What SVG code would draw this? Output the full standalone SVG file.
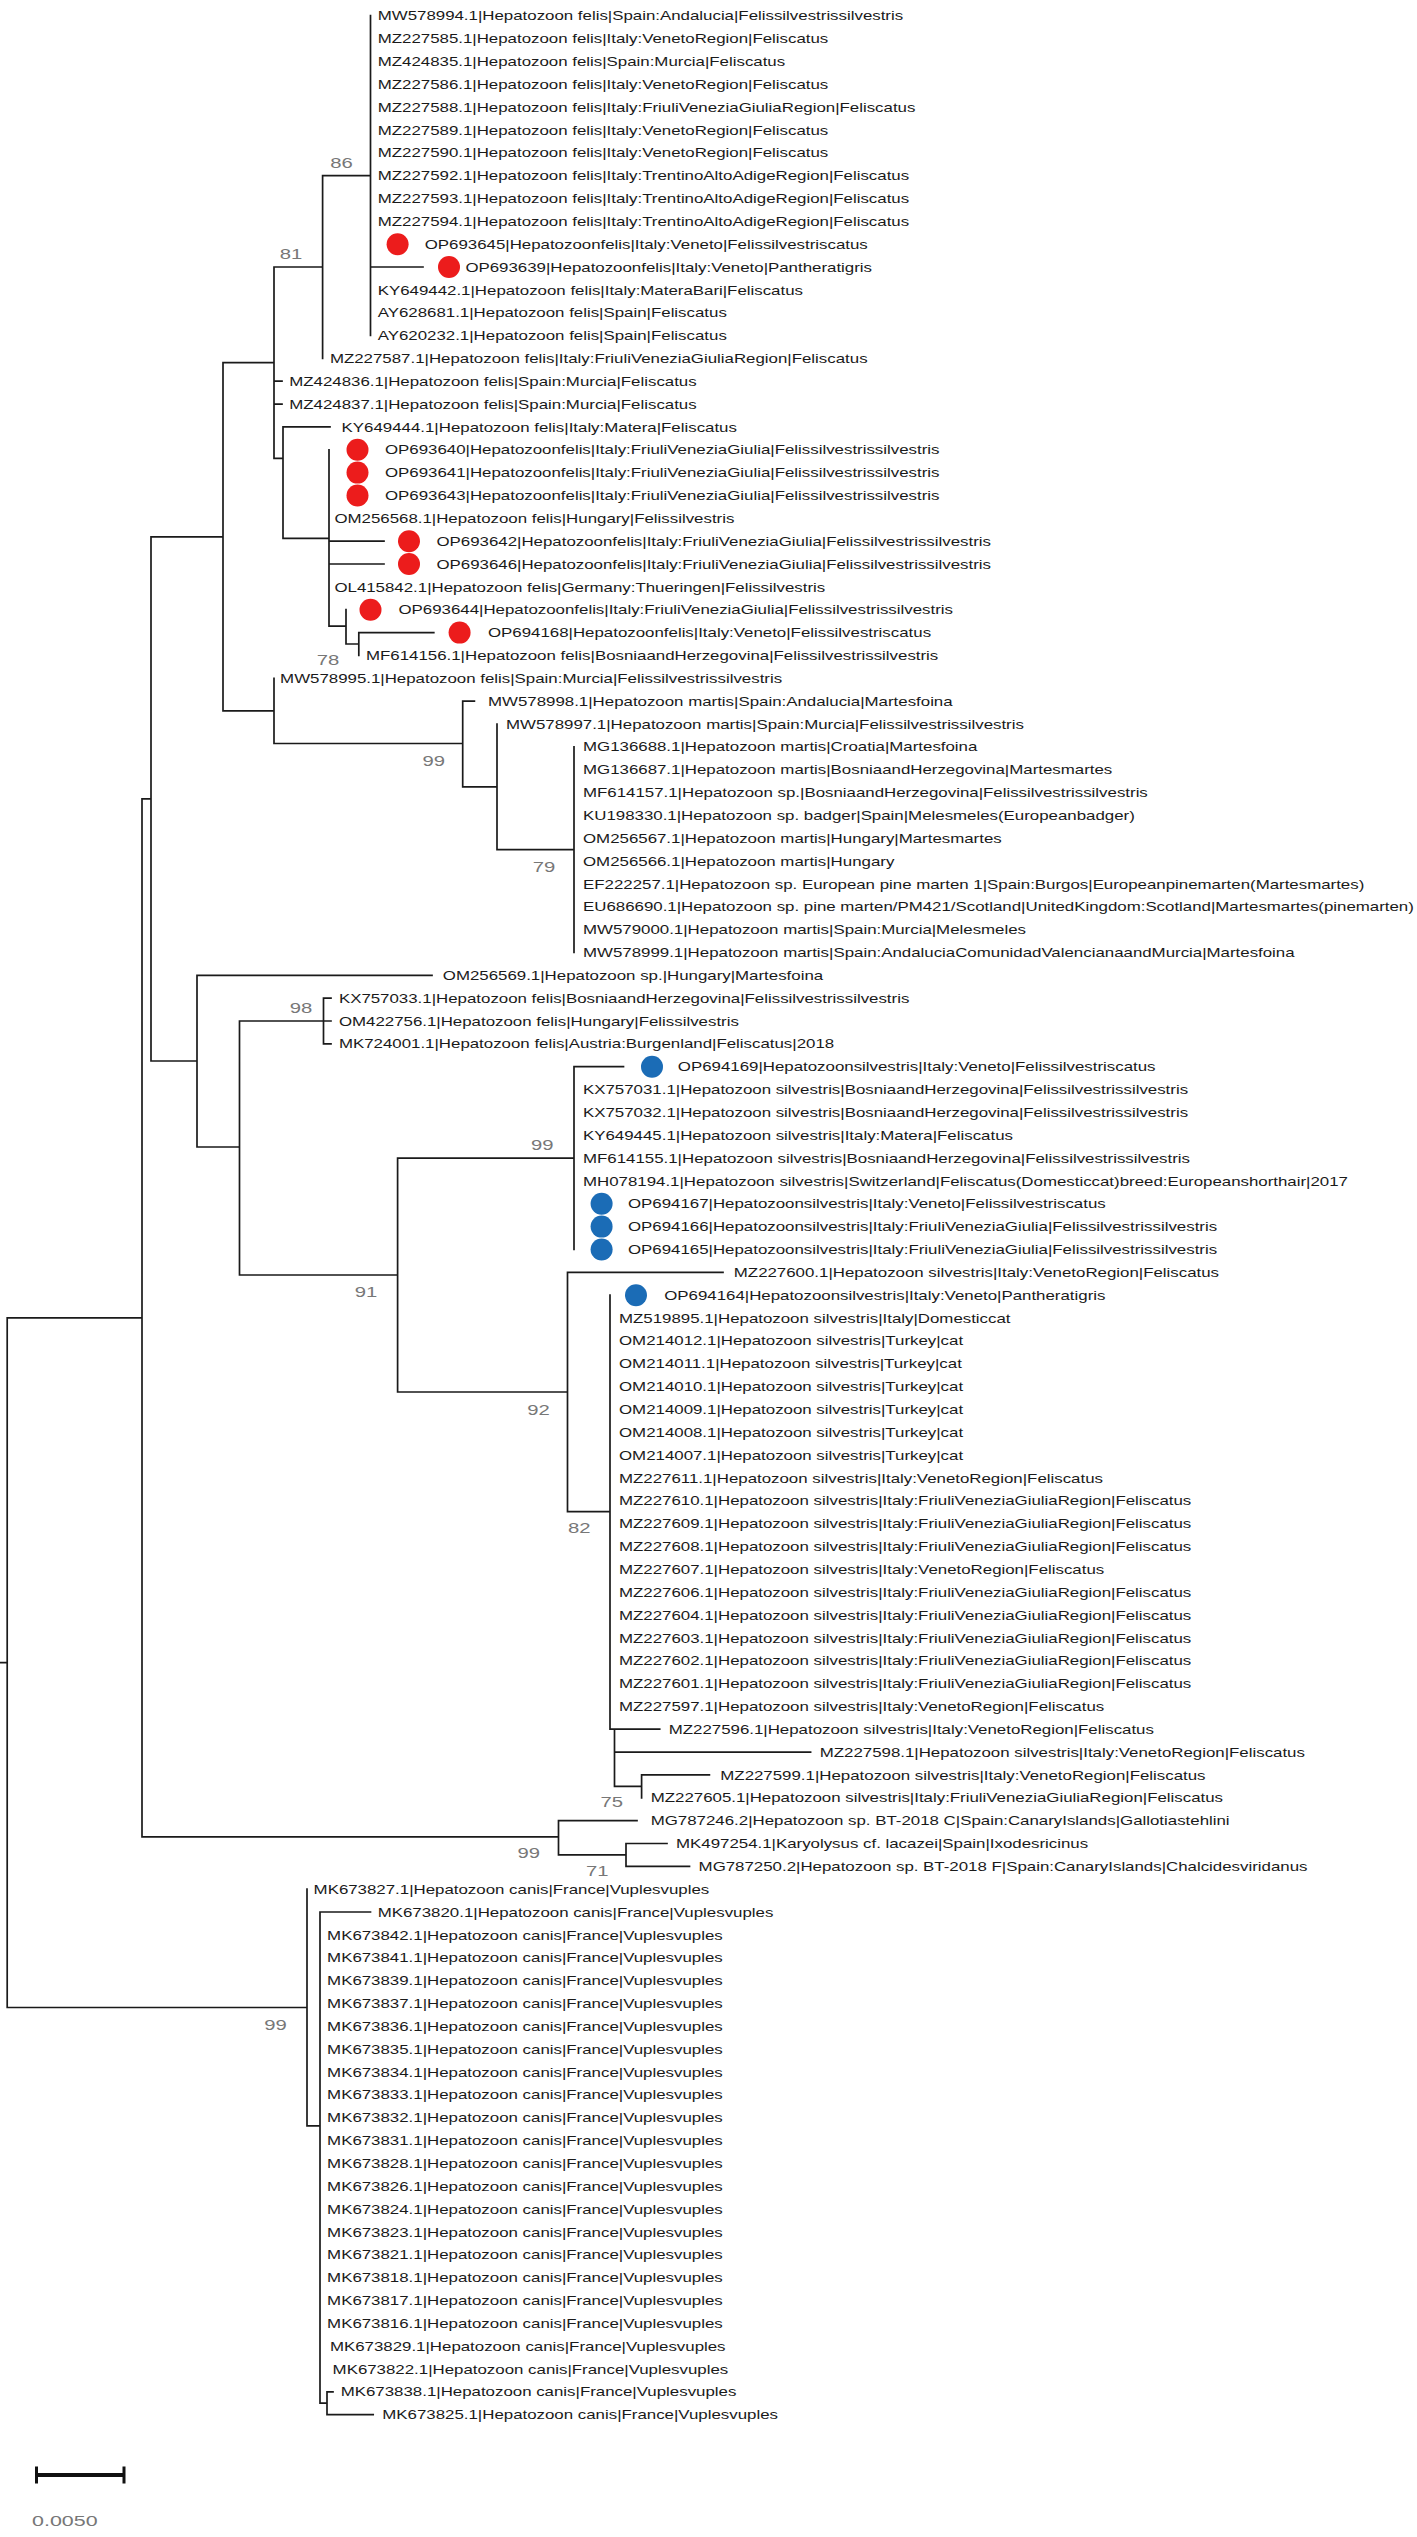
<svg xmlns="http://www.w3.org/2000/svg" width="1417" height="2537" viewBox="0 0 1417 2537">
<style>
.l{font-family:"Liberation Sans",Arial,Helvetica,sans-serif;font-size:12.5px;fill:#1a1a1a}
.b{font-family:"Liberation Sans",Arial,Helvetica,sans-serif;font-size:14px;fill:#777;text-anchor:middle}
.s{font-family:"Liberation Sans",Arial,Helvetica,sans-serif;font-size:15px;fill:#777}
.e{fill:none;stroke:#1a1a1a;stroke-width:1.7;stroke-linecap:square}
.r{fill:#ec1c1c}
.u{fill:#1b6cb6}
</style>
<rect width="1417" height="2537" fill="#fff"/>
<g id="connectors">
<path class="e" d="M0 1662.7H7.2M7.2 1317.9V2007.5M7.2 1317.9H142M142 798.9V1836.9M142 798.9H151M151 536.8V1061M151 536.8H223M223 362.7V710.9M223 362.7H274M274 267V458.3M274 267H322.6M322.6 175.6V358.4M322.6 175.6H370.5M370.5 15.7V335.5M370.5 267H423M274 381.2H282M274 404.1H282M274 458.3H283M283 426.9V538.3M283 426.9H330M283 538.3H329M329 449.8V626.2M329 541.2H384M329 564H384M329 626.2H346M346 609.7V644M346 644H358.8M358.8 632.6V655.4M358.8 632.6H433.8M223 710.9H274M274 678.3V743.5M274 743.5H462.7M462.7 701.1V786.8M462.7 701.1H474.4M462.7 786.8H497M497 724V849.6M497 849.6H574M574 746.8V952.4M151 1061H197M197 975.3V1147M197 975.3H432M197 1147H239.5M239.5 1021V1275M239.5 1021H323.5M323.5 998.1V1043.8M323.5 998.1H331M323.5 1021H331M323.5 1043.8H331M239.5 1275H397.6M397.6 1158.1V1392M397.6 1158.1H574M574 1066.7V1249.5M574 1066.7H623.5M397.6 1392H567.5M567.5 1272.3V1511.7M567.5 1272.3H723M567.5 1511.7H610M610 1295.2V1729.2M610 1729.2H614.5M614.5 1729.2V1786.4M614.5 1729.2H659.7M614.5 1752.1H810.6M614.5 1786.4H641.6M641.6 1774.9V1797.8M641.6 1774.9H709.4M142 1836.9H558.5M558.5 1820.6V1854.9M558.5 1820.6H637M558.5 1854.9H626M626 1843.5V1866.3M626 1843.5H667M626 1866.3H689.5M7.2 2007.5H307M307 1889.2V2125.8M307 2125.8H320M320 1912V2403.2M320 1912H370.5M320 2403.2H327M327 2391.8V2414.7M327 2391.8H333M327 2414.7H373.2"/>
</g>
<g id="bootstrap">
<text class="b" transform="translate(341.6 168.3)scale(1.45 1)">86</text>
<text class="b" transform="translate(291 259.3)scale(1.45 1)">81</text>
<text class="b" transform="translate(328 665)scale(1.45 1)">78</text>
<text class="b" transform="translate(433.8 765.7)scale(1.45 1)">99</text>
<text class="b" transform="translate(544 871.7)scale(1.45 1)">79</text>
<text class="b" transform="translate(301 1013.3)scale(1.45 1)">98</text>
<text class="b" transform="translate(542.2 1150)scale(1.45 1)">99</text>
<text class="b" transform="translate(366 1296.7)scale(1.45 1)">91</text>
<text class="b" transform="translate(538.6 1415)scale(1.45 1)">92</text>
<text class="b" transform="translate(579.3 1533.3)scale(1.45 1)">82</text>
<text class="b" transform="translate(611.8 1806.7)scale(1.45 1)">75</text>
<text class="b" transform="translate(528.7 1858.3)scale(1.45 1)">99</text>
<text class="b" transform="translate(597.3 1875.7)scale(1.45 1)">71</text>
<text class="b" transform="translate(275.6 2030)scale(1.45 1)">99</text>
</g>
<g id="leaves">
<g id="n001"><text class="l" transform="translate(377.7 20.3)scale(1.35 1)">MW578994.1|Hepatozoon felis|Spain:Andalucia|Felissilvestrissilvestris</text></g>
<g id="n002"><text class="l" transform="translate(377.7 43.1)scale(1.35 1)">MZ227585.1|Hepatozoon felis|Italy:VenetoRegion|Feliscatus</text></g>
<g id="n003"><text class="l" transform="translate(377.7 66)scale(1.35 1)">MZ424835.1|Hepatozoon felis|Spain:Murcia|Feliscatus</text></g>
<g id="n004"><text class="l" transform="translate(377.7 88.8)scale(1.35 1)">MZ227586.1|Hepatozoon felis|Italy:VenetoRegion|Feliscatus</text></g>
<g id="n005"><text class="l" transform="translate(377.7 111.7)scale(1.35 1)">MZ227588.1|Hepatozoon felis|Italy:FriuliVeneziaGiuliaRegion|Feliscatus</text></g>
<g id="n006"><text class="l" transform="translate(377.7 134.5)scale(1.35 1)">MZ227589.1|Hepatozoon felis|Italy:VenetoRegion|Feliscatus</text></g>
<g id="n007"><text class="l" transform="translate(377.7 157.4)scale(1.35 1)">MZ227590.1|Hepatozoon felis|Italy:VenetoRegion|Feliscatus</text></g>
<g id="n008"><text class="l" transform="translate(377.7 180.2)scale(1.35 1)">MZ227592.1|Hepatozoon felis|Italy:TrentinoAltoAdigeRegion|Feliscatus</text></g>
<g id="n009"><text class="l" transform="translate(377.7 203.1)scale(1.35 1)">MZ227593.1|Hepatozoon felis|Italy:TrentinoAltoAdigeRegion|Feliscatus</text></g>
<g id="n010"><text class="l" transform="translate(377.7 225.9)scale(1.35 1)">MZ227594.1|Hepatozoon felis|Italy:TrentinoAltoAdigeRegion|Feliscatus</text></g>
<g id="n011"><circle class="r" cx="397.6" cy="244.2" r="11"/><text class="l" transform="translate(424.7 248.8)scale(1.35 1)">OP693645|Hepatozoonfelis|Italy:Veneto|Felissilvestriscatus</text></g>
<g id="n012"><circle class="r" cx="449" cy="267" r="11"/><text class="l" transform="translate(465.4 271.6)scale(1.35 1)">OP693639|Hepatozoonfelis|Italy:Veneto|Pantheratigris</text></g>
<g id="n013"><text class="l" transform="translate(377.7 294.5)scale(1.35 1)">KY649442.1|Hepatozoon felis|Italy:MateraBari|Feliscatus</text></g>
<g id="n014"><text class="l" transform="translate(377.7 317.3)scale(1.35 1)">AY628681.1|Hepatozoon felis|Spain|Feliscatus</text></g>
<g id="n015"><text class="l" transform="translate(377.7 340.1)scale(1.35 1)">AY620232.1|Hepatozoon felis|Spain|Feliscatus</text></g>
<g id="n016"><text class="l" transform="translate(329.9 363)scale(1.35 1)">MZ227587.1|Hepatozoon felis|Italy:FriuliVeneziaGiuliaRegion|Feliscatus</text></g>
<g id="n017"><text class="l" transform="translate(289.2 385.8)scale(1.35 1)">MZ424836.1|Hepatozoon felis|Spain:Murcia|Feliscatus</text></g>
<g id="n018"><text class="l" transform="translate(289.2 408.7)scale(1.35 1)">MZ424837.1|Hepatozoon felis|Spain:Murcia|Feliscatus</text></g>
<g id="n019"><text class="l" transform="translate(341.6 431.5)scale(1.35 1)">KY649444.1|Hepatozoon felis|Italy:Matera|Feliscatus</text></g>
<g id="n020"><circle class="r" cx="357.5" cy="449.8" r="11"/><text class="l" transform="translate(385 454.4)scale(1.35 1)">OP693640|Hepatozoonfelis|Italy:FriuliVeneziaGiulia|Felissilvestrissilvestris</text></g>
<g id="n021"><circle class="r" cx="357.5" cy="472.6" r="11"/><text class="l" transform="translate(385 477.2)scale(1.35 1)">OP693641|Hepatozoonfelis|Italy:FriuliVeneziaGiulia|Felissilvestrissilvestris</text></g>
<g id="n022"><circle class="r" cx="357.5" cy="495.5" r="11"/><text class="l" transform="translate(385 500.1)scale(1.35 1)">OP693643|Hepatozoonfelis|Italy:FriuliVeneziaGiulia|Felissilvestrissilvestris</text></g>
<g id="n023"><text class="l" transform="translate(334.4 522.9)scale(1.35 1)">OM256568.1|Hepatozoon felis|Hungary|Felissilvestris</text></g>
<g id="n024"><circle class="r" cx="409" cy="541.2" r="11"/><text class="l" transform="translate(436.5 545.8)scale(1.35 1)">OP693642|Hepatozoonfelis|Italy:FriuliVeneziaGiulia|Felissilvestrissilvestris</text></g>
<g id="n025"><circle class="r" cx="409" cy="564" r="11"/><text class="l" transform="translate(436.5 568.6)scale(1.35 1)">OP693646|Hepatozoonfelis|Italy:FriuliVeneziaGiulia|Felissilvestrissilvestris</text></g>
<g id="n026"><text class="l" transform="translate(334.4 591.5)scale(1.35 1)">OL415842.1|Hepatozoon felis|Germany:Thueringen|Felissilvestris</text></g>
<g id="n027"><circle class="r" cx="370.5" cy="609.7" r="11"/><text class="l" transform="translate(398.5 614.3)scale(1.35 1)">OP693644|Hepatozoonfelis|Italy:FriuliVeneziaGiulia|Felissilvestrissilvestris</text></g>
<g id="n028"><circle class="r" cx="459.6" cy="632.6" r="11"/><text class="l" transform="translate(488 637.2)scale(1.35 1)">OP694168|Hepatozoonfelis|Italy:Veneto|Felissilvestriscatus</text></g>
<g id="n029"><text class="l" transform="translate(366 660)scale(1.35 1)">MF614156.1|Hepatozoon felis|BosniaandHerzegovina|Felissilvestrissilvestris</text></g>
<g id="n030"><text class="l" transform="translate(280.1 682.9)scale(1.35 1)">MW578995.1|Hepatozoon felis|Spain:Murcia|Felissilvestrissilvestris</text></g>
<g id="n031"><text class="l" transform="translate(488 705.7)scale(1.35 1)">MW578998.1|Hepatozoon martis|Spain:Andalucia|Martesfoina</text></g>
<g id="n032"><text class="l" transform="translate(506 728.6)scale(1.35 1)">MW578997.1|Hepatozoon martis|Spain:Murcia|Felissilvestrissilvestris</text></g>
<g id="n033"><text class="l" transform="translate(583 751.4)scale(1.35 1)">MG136688.1|Hepatozoon martis|Croatia|Martesfoina</text></g>
<g id="n034"><text class="l" transform="translate(583 774.3)scale(1.35 1)">MG136687.1|Hepatozoon martis|BosniaandHerzegovina|Martesmartes</text></g>
<g id="n035"><text class="l" transform="translate(583 797.1)scale(1.35 1)">MF614157.1|Hepatozoon sp.|BosniaandHerzegovina|Felissilvestrissilvestris</text></g>
<g id="n036"><text class="l" transform="translate(583 820)scale(1.35 1)">KU198330.1|Hepatozoon sp. badger|Spain|Melesmeles(Europeanbadger)</text></g>
<g id="n037"><text class="l" transform="translate(583 842.8)scale(1.35 1)">OM256567.1|Hepatozoon martis|Hungary|Martesmartes</text></g>
<g id="n038"><text class="l" transform="translate(583 865.6)scale(1.35 1)">OM256566.1|Hepatozoon martis|Hungary</text></g>
<g id="n039"><text class="l" transform="translate(583 888.5)scale(1.35 1)">EF222257.1|Hepatozoon sp. European pine marten 1|Spain:Burgos|Europeanpinemarten(Martesmartes)</text></g>
<g id="n040"><text class="l" transform="translate(583 911.3)scale(1.35 1)">EU686690.1|Hepatozoon sp. pine marten/PM421/Scotland|UnitedKingdom:Scotland|Martesmartes(pinemarten)</text></g>
<g id="n041"><text class="l" transform="translate(583 934.2)scale(1.35 1)">MW579000.1|Hepatozoon martis|Spain:Murcia|Melesmeles</text></g>
<g id="n042"><text class="l" transform="translate(583 957)scale(1.35 1)">MW578999.1|Hepatozoon martis|Spain:AndaluciaComunidadValencianaandMurcia|Martesfoina</text></g>
<g id="n043"><text class="l" transform="translate(442.8 979.9)scale(1.35 1)">OM256569.1|Hepatozoon sp.|Hungary|Martesfoina</text></g>
<g id="n044"><text class="l" transform="translate(338.9 1002.7)scale(1.35 1)">KX757033.1|Hepatozoon felis|BosniaandHerzegovina|Felissilvestrissilvestris</text></g>
<g id="n045"><text class="l" transform="translate(338.9 1025.6)scale(1.35 1)">OM422756.1|Hepatozoon felis|Hungary|Felissilvestris</text></g>
<g id="n046"><text class="l" transform="translate(338.9 1048.4)scale(1.35 1)">MK724001.1|Hepatozoon felis|Austria:Burgenland|Feliscatus|2018</text></g>
<g id="n047"><circle class="u" cx="652" cy="1066.7" r="11"/><text class="l" transform="translate(677.8 1071.3)scale(1.35 1)">OP694169|Hepatozoonsilvestris|Italy:Veneto|Felissilvestriscatus</text></g>
<g id="n048"><text class="l" transform="translate(583 1094.1)scale(1.35 1)">KX757031.1|Hepatozoon silvestris|BosniaandHerzegovina|Felissilvestrissilvestris</text></g>
<g id="n049"><text class="l" transform="translate(583 1117)scale(1.35 1)">KX757032.1|Hepatozoon silvestris|BosniaandHerzegovina|Felissilvestrissilvestris</text></g>
<g id="n050"><text class="l" transform="translate(583 1139.8)scale(1.35 1)">KY649445.1|Hepatozoon silvestris|Italy:Matera|Feliscatus</text></g>
<g id="n051"><text class="l" transform="translate(583 1162.7)scale(1.35 1)">MF614155.1|Hepatozoon silvestris|BosniaandHerzegovina|Felissilvestrissilvestris</text></g>
<g id="n052"><text class="l" transform="translate(583 1185.5)scale(1.35 1)">MH078194.1|Hepatozoon silvestris|Switzerland|Feliscatus(Domesticcat)breed:Europeanshorthair|2017</text></g>
<g id="n053"><circle class="u" cx="601.6" cy="1203.8" r="11"/><text class="l" transform="translate(628 1208.4)scale(1.35 1)">OP694167|Hepatozoonsilvestris|Italy:Veneto|Felissilvestriscatus</text></g>
<g id="n054"><circle class="u" cx="601.6" cy="1226.6" r="11"/><text class="l" transform="translate(628 1231.2)scale(1.35 1)">OP694166|Hepatozoonsilvestris|Italy:FriuliVeneziaGiulia|Felissilvestrissilvestris</text></g>
<g id="n055"><circle class="u" cx="601.6" cy="1249.5" r="11"/><text class="l" transform="translate(628 1254.1)scale(1.35 1)">OP694165|Hepatozoonsilvestris|Italy:FriuliVeneziaGiulia|Felissilvestrissilvestris</text></g>
<g id="n056"><text class="l" transform="translate(733.8 1276.9)scale(1.35 1)">MZ227600.1|Hepatozoon silvestris|Italy:VenetoRegion|Feliscatus</text></g>
<g id="n057"><circle class="u" cx="636" cy="1295.2" r="11"/><text class="l" transform="translate(664.2 1299.8)scale(1.35 1)">OP694164|Hepatozoonsilvestris|Italy:Veneto|Pantheratigris</text></g>
<g id="n058"><text class="l" transform="translate(619 1322.6)scale(1.35 1)">MZ519895.1|Hepatozoon silvestris|Italy|Domesticcat</text></g>
<g id="n059"><text class="l" transform="translate(619 1345.4)scale(1.35 1)">OM214012.1|Hepatozoon silvestris|Turkey|cat</text></g>
<g id="n060"><text class="l" transform="translate(619 1368.3)scale(1.35 1)">OM214011.1|Hepatozoon silvestris|Turkey|cat</text></g>
<g id="n061"><text class="l" transform="translate(619 1391.1)scale(1.35 1)">OM214010.1|Hepatozoon silvestris|Turkey|cat</text></g>
<g id="n062"><text class="l" transform="translate(619 1414)scale(1.35 1)">OM214009.1|Hepatozoon silvestris|Turkey|cat</text></g>
<g id="n063"><text class="l" transform="translate(619 1436.8)scale(1.35 1)">OM214008.1|Hepatozoon silvestris|Turkey|cat</text></g>
<g id="n064"><text class="l" transform="translate(619 1459.7)scale(1.35 1)">OM214007.1|Hepatozoon silvestris|Turkey|cat</text></g>
<g id="n065"><text class="l" transform="translate(619 1482.5)scale(1.35 1)">MZ227611.1|Hepatozoon silvestris|Italy:VenetoRegion|Feliscatus</text></g>
<g id="n066"><text class="l" transform="translate(619 1505.4)scale(1.35 1)">MZ227610.1|Hepatozoon silvestris|Italy:FriuliVeneziaGiuliaRegion|Feliscatus</text></g>
<g id="n067"><text class="l" transform="translate(619 1528.2)scale(1.35 1)">MZ227609.1|Hepatozoon silvestris|Italy:FriuliVeneziaGiuliaRegion|Feliscatus</text></g>
<g id="n068"><text class="l" transform="translate(619 1551.1)scale(1.35 1)">MZ227608.1|Hepatozoon silvestris|Italy:FriuliVeneziaGiuliaRegion|Feliscatus</text></g>
<g id="n069"><text class="l" transform="translate(619 1573.9)scale(1.35 1)">MZ227607.1|Hepatozoon silvestris|Italy:VenetoRegion|Feliscatus</text></g>
<g id="n070"><text class="l" transform="translate(619 1596.8)scale(1.35 1)">MZ227606.1|Hepatozoon silvestris|Italy:FriuliVeneziaGiuliaRegion|Feliscatus</text></g>
<g id="n071"><text class="l" transform="translate(619 1619.6)scale(1.35 1)">MZ227604.1|Hepatozoon silvestris|Italy:FriuliVeneziaGiuliaRegion|Feliscatus</text></g>
<g id="n072"><text class="l" transform="translate(619 1642.5)scale(1.35 1)">MZ227603.1|Hepatozoon silvestris|Italy:FriuliVeneziaGiuliaRegion|Feliscatus</text></g>
<g id="n073"><text class="l" transform="translate(619 1665.3)scale(1.35 1)">MZ227602.1|Hepatozoon silvestris|Italy:FriuliVeneziaGiuliaRegion|Feliscatus</text></g>
<g id="n074"><text class="l" transform="translate(619 1688.1)scale(1.35 1)">MZ227601.1|Hepatozoon silvestris|Italy:FriuliVeneziaGiuliaRegion|Feliscatus</text></g>
<g id="n075"><text class="l" transform="translate(619 1711)scale(1.35 1)">MZ227597.1|Hepatozoon silvestris|Italy:VenetoRegion|Feliscatus</text></g>
<g id="n076"><text class="l" transform="translate(668.7 1733.8)scale(1.35 1)">MZ227596.1|Hepatozoon silvestris|Italy:VenetoRegion|Feliscatus</text></g>
<g id="n077"><text class="l" transform="translate(819.7 1756.7)scale(1.35 1)">MZ227598.1|Hepatozoon silvestris|Italy:VenetoRegion|Feliscatus</text></g>
<g id="n078"><text class="l" transform="translate(720.3 1779.5)scale(1.35 1)">MZ227599.1|Hepatozoon silvestris|Italy:VenetoRegion|Feliscatus</text></g>
<g id="n079"><text class="l" transform="translate(650.7 1802.4)scale(1.35 1)">MZ227605.1|Hepatozoon silvestris|Italy:FriuliVeneziaGiuliaRegion|Feliscatus</text></g>
<g id="n080"><text class="l" transform="translate(650.7 1825.2)scale(1.35 1)">MG787246.2|Hepatozoon sp. BT-2018 C|Spain:CanaryIslands|Gallotiastehlini</text></g>
<g id="n081"><text class="l" transform="translate(676 1848.1)scale(1.35 1)">MK497254.1|Karyolysus cf. lacazei|Spain|Ixodesricinus</text></g>
<g id="n082"><text class="l" transform="translate(698.6 1870.9)scale(1.35 1)">MG787250.2|Hepatozoon sp. BT-2018 F|Spain:CanaryIslands|Chalcidesviridanus</text></g>
<g id="n083"><text class="l" transform="translate(313.6 1893.8)scale(1.35 1)">MK673827.1|Hepatozoon canis|France|Vuplesvuples</text></g>
<g id="n084"><text class="l" transform="translate(377.7 1916.6)scale(1.35 1)">MK673820.1|Hepatozoon canis|France|Vuplesvuples</text></g>
<g id="n085"><text class="l" transform="translate(327.1 1939.5)scale(1.35 1)">MK673842.1|Hepatozoon canis|France|Vuplesvuples</text></g>
<g id="n086"><text class="l" transform="translate(327.1 1962.3)scale(1.35 1)">MK673841.1|Hepatozoon canis|France|Vuplesvuples</text></g>
<g id="n087"><text class="l" transform="translate(327.1 1985.2)scale(1.35 1)">MK673839.1|Hepatozoon canis|France|Vuplesvuples</text></g>
<g id="n088"><text class="l" transform="translate(327.1 2008)scale(1.35 1)">MK673837.1|Hepatozoon canis|France|Vuplesvuples</text></g>
<g id="n089"><text class="l" transform="translate(327.1 2030.9)scale(1.35 1)">MK673836.1|Hepatozoon canis|France|Vuplesvuples</text></g>
<g id="n090"><text class="l" transform="translate(327.1 2053.7)scale(1.35 1)">MK673835.1|Hepatozoon canis|France|Vuplesvuples</text></g>
<g id="n091"><text class="l" transform="translate(327.1 2076.6)scale(1.35 1)">MK673834.1|Hepatozoon canis|France|Vuplesvuples</text></g>
<g id="n092"><text class="l" transform="translate(327.1 2099.4)scale(1.35 1)">MK673833.1|Hepatozoon canis|France|Vuplesvuples</text></g>
<g id="n093"><text class="l" transform="translate(327.1 2122.3)scale(1.35 1)">MK673832.1|Hepatozoon canis|France|Vuplesvuples</text></g>
<g id="n094"><text class="l" transform="translate(327.1 2145.1)scale(1.35 1)">MK673831.1|Hepatozoon canis|France|Vuplesvuples</text></g>
<g id="n095"><text class="l" transform="translate(327.1 2167.9)scale(1.35 1)">MK673828.1|Hepatozoon canis|France|Vuplesvuples</text></g>
<g id="n096"><text class="l" transform="translate(327.1 2190.8)scale(1.35 1)">MK673826.1|Hepatozoon canis|France|Vuplesvuples</text></g>
<g id="n097"><text class="l" transform="translate(327.1 2213.6)scale(1.35 1)">MK673824.1|Hepatozoon canis|France|Vuplesvuples</text></g>
<g id="n098"><text class="l" transform="translate(327.1 2236.5)scale(1.35 1)">MK673823.1|Hepatozoon canis|France|Vuplesvuples</text></g>
<g id="n099"><text class="l" transform="translate(327.1 2259.3)scale(1.35 1)">MK673821.1|Hepatozoon canis|France|Vuplesvuples</text></g>
<g id="n100"><text class="l" transform="translate(327.1 2282.2)scale(1.35 1)">MK673818.1|Hepatozoon canis|France|Vuplesvuples</text></g>
<g id="n101"><text class="l" transform="translate(327.1 2305)scale(1.35 1)">MK673817.1|Hepatozoon canis|France|Vuplesvuples</text></g>
<g id="n102"><text class="l" transform="translate(327.1 2327.9)scale(1.35 1)">MK673816.1|Hepatozoon canis|France|Vuplesvuples</text></g>
<g id="n103"><text class="l" transform="translate(329.9 2350.7)scale(1.35 1)">MK673829.1|Hepatozoon canis|France|Vuplesvuples</text></g>
<g id="n104"><text class="l" transform="translate(332.6 2373.6)scale(1.35 1)">MK673822.1|Hepatozoon canis|France|Vuplesvuples</text></g>
<g id="n105"><text class="l" transform="translate(340.7 2396.4)scale(1.35 1)">MK673838.1|Hepatozoon canis|France|Vuplesvuples</text></g>
<g id="n106"><text class="l" transform="translate(382.3 2419.3)scale(1.35 1)">MK673825.1|Hepatozoon canis|France|Vuplesvuples</text></g>
</g>
<g id="scalebar">
<rect x="36" y="2473" width="89" height="4" fill="#111"/>
<rect x="35" y="2466.5" width="3" height="17" fill="#111"/>
<rect x="122.5" y="2466.5" width="3" height="17" fill="#111"/>
<text class="s" transform="translate(32 2525.5)scale(1.43 1)">0.0050</text>
</g>
</svg>
